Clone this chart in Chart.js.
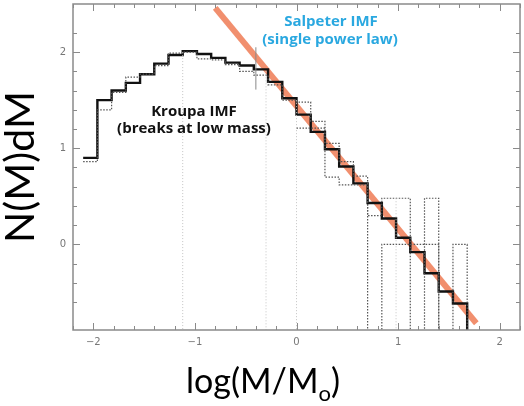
<!DOCTYPE html>
<html>
<head>
<meta charset="utf-8">
<script src="https://cdn.jsdelivr.net/npm/chart.js@4.4.1/dist/chart.umd.min.js"></script>
<style>
  html, body { margin: 0; padding: 0; background: #fff; }
  #wrap { width: 524px; height: 406px; position: relative; }
</style>
</head>
<body>
<div id="wrap"><canvas id="c" width="524" height="406"></canvas></div>
<script>
// ---- data ----
// bin edges in log(M/Mo)
const binEdges = [-2.10, -1.96, -1.82, -1.68, -1.54, -1.40, -1.26, -1.12, -0.98, -0.84,
                  -0.70, -0.56, -0.42, -0.28, -0.14, 0.00, 0.14, 0.28, 0.42, 0.56,
                  0.70, 0.84, 0.98, 1.12, 1.26, 1.40, 1.54, 1.68];
// log N value used for an empty bin (drops below the axis)
const LOG_ZERO = -1.5;
// solid (mean) histogram
const kroupaMean = [0.90, 1.50, 1.60, 1.68, 1.77, 1.88, 1.97, 2.01, 1.98, 1.94,
                    1.89, 1.86, 1.82, 1.69, 1.52, 1.35, 1.17, 0.99, 0.81, 0.635,
                    0.43, 0.27, 0.07, -0.08, -0.30, -0.49, -0.615];
// dotted single realisations
const runA = [0.86, 1.40, 1.58, 1.74, 1.77, 1.86, 1.99, 2.00, 1.93, 1.92,
              1.87, 1.80, 1.76, 1.66, 1.50, 1.48, 1.28, 0.70, 0.62, 0.62,
              0.30, 0.48, 0.48, LOG_ZERO, 0.48, LOG_ZERO, LOG_ZERO];
const runB = [null, null, null, null, null, null, null, null, null, null,
              null, null, null, null, null, 1.21, 1.21, 1.05, 0.86, 0.71,
              LOG_ZERO, 0.00, 0.00, 0.00, 0.00, LOG_ZERO, 0.00];
// faint dotted guide verticals
const guideX   = [-1.12, -0.30, 0.00, 0.98];
const guideTop = [2.00, 1.80, 1.50, 0.48];
// gray error bar
const errX = -0.40;
const errY = [1.61, 2.05];
// Salpeter single power law line
const salpeterX = [-0.80, 1.77];
const salpeterY = [2.46, -0.82];
// axis tick labels
const xTickLabels = [-2, -1, 0, 1, 2];
const yTickLabels = [0, 1, 2];

function stepPoints(vals) {
  const pts = [];
  for (let i = 0; i < vals.length; i++) pts.push({x: binEdges[i], y: vals[i]});
  const last = vals[vals.length - 1];
  pts.push({x: binEdges[vals.length], y: last});
  pts.push({x: binEdges[vals.length], y: LOG_ZERO});
  return pts;
}

const datasets = [];
guideX.forEach((gx, i) => {
  datasets.push({
    data: [{x: gx, y: guideTop[i]}, {x: gx, y: LOG_ZERO}],
    borderColor: '#c4c4c4', borderWidth: 1, borderDash: [1, 2], pointRadius: 0, fill: false
  });
});
datasets.push({
  data: [{x: errX, y: errY[0]}, {x: errX, y: errY[1]}],
  borderColor: '#888', borderWidth: 1, pointRadius: 0, fill: false
});
datasets.push({
  data: stepPoints(runB), stepped: 'before',
  borderColor: '#555', borderWidth: 1.2, borderDash: [1.5, 1.5], pointRadius: 0, fill: false, spanGaps: false
});
datasets.push({
  data: stepPoints(runA), stepped: 'before',
  borderColor: '#555', borderWidth: 1.2, borderDash: [1.5, 1.5], pointRadius: 0, fill: false
});
datasets.push({
  data: stepPoints(kroupaMean), stepped: 'before',
  borderColor: '#111', borderWidth: 2.4, pointRadius: 0, fill: false
});
datasets.push({
  data: [{x: salpeterX[0], y: salpeterY[0]}, {x: salpeterX[1], y: salpeterY[1]}],
  borderColor: 'rgba(238,118,78,0.82)', borderWidth: 6, pointRadius: 0, fill: false, borderCapStyle: 'butt'
});

function isMult(v, s) { return Math.abs(v / s - Math.round(v / s)) < 1e-6; }
function fmt(v) { return v < 0 ? '\u2212' + Math.abs(v) : String(v); }

const decor = {
  id: 'decor',
  afterDraw(chart) {
    const ctx = chart.ctx, a = chart.chartArea;
    const xs = chart.scales.x, ys = chart.scales.y;
    ctx.save();
    // frame
    ctx.strokeStyle = '#8a8a8a';
    ctx.lineWidth = 1.5;
    ctx.strokeRect(a.left, a.top, a.right - a.left, a.bottom - a.top);
    // inward ticks
    ctx.lineWidth = 1;
    ctx.beginPath();
    xs.ticks.forEach(t => {
      if (!isMult(t.value, 0.2)) return;
      const px = Math.round(xs.getPixelForValue(t.value)) + 0.5;
      const len = xTickLabels.some(v => Math.abs(v - t.value) < 1e-6) ? 7 : 4;
      ctx.moveTo(px, a.bottom); ctx.lineTo(px, a.bottom - len);
      ctx.moveTo(px, a.top); ctx.lineTo(px, a.top + len);
    });
    ys.ticks.forEach(t => {
      if (!isMult(t.value, 0.2)) return;
      const py = Math.round(ys.getPixelForValue(t.value)) + 0.5;
      const len = yTickLabels.some(v => Math.abs(v - t.value) < 1e-6) ? 7 : 4;
      ctx.moveTo(a.left, py); ctx.lineTo(a.left + len, py);
      ctx.moveTo(a.right, py); ctx.lineTo(a.right - len, py);
    });
    ctx.stroke();

    // annotations
    ctx.textAlign = 'center';
    ctx.textBaseline = 'middle';
    ctx.font = 'bold 15px "Open Sans"';
    ctx.fillStyle = '#2aa8e0';
    ctx.fillText('Salpeter IMF', 331, 22);
    ctx.fillText('(single power law)', 330, 40);
    ctx.fillStyle = '#111';
    ctx.fillText('Kroupa IMF', 194, 112);
    ctx.fillText('(breaks at low mass)', 194, 129);

    // axis titles
    ctx.fillStyle = '#000';
    ctx.font = '34px Lato';
    ctx.textBaseline = 'alphabetic';
    // x title with subscript
    const main1 = 'log(M/M', sub = 'o', main2 = ')';
    const w1 = ctx.measureText(main1).width;
    const w3 = ctx.measureText(main2).width;
    ctx.font = '22px Lato';
    const w2 = ctx.measureText(sub).width;
    const total = w1 + w2 + w3;
    let x0 = 263 - total / 2;
    ctx.textAlign = 'left';
    ctx.font = '34px Lato';
    ctx.fillText(main1, x0, 393);
    ctx.font = '22px Lato';
    ctx.fillText(sub, x0 + w1, 401);
    ctx.font = '34px Lato';
    ctx.fillText(main2, x0 + w1 + w2, 393);
    // y title rotated
    ctx.save();
    ctx.translate(34, 167);
    ctx.rotate(-Math.PI / 2);
    ctx.textAlign = 'center';
    ctx.font = '41px Lato';
    ctx.fillText('N(M)dM', 0, 0);
    ctx.restore();
    ctx.restore();
  }
};

new Chart(document.getElementById('c'), {
  type: 'line',
  data: { datasets },
  options: {
    responsive: false,
    animation: false,
    events: [],
    layout: { padding: { left: 0, top: 4, right: 4, bottom: 0 } },
    plugins: { legend: { display: false }, tooltip: { enabled: false } },
    scales: {
      x: {
        type: 'linear', min: -2.2, max: 2.2,
        grid: { display: false, drawTicks: false },
        border: { display: false },
        ticks: {
          stepSize: 0.2, autoSkip: false, maxRotation: 0, padding: 6,
          color: '#777', font: { family: 'DejaVu Sans', size: 10 },
          callback: v => xTickLabels.some(l => Math.abs(l - v) < 1e-6) ? fmt(Math.round(v)) : ''
        },
        afterFit: s => { s.height = 76; s.paddingLeft = 0; s.paddingRight = 0; }
      },
      y: {
        type: 'linear', min: -0.89, max: 2.5,
        grid: { display: false, drawTicks: false },
        border: { display: false },
        ticks: {
          stepSize: 0.2, autoSkip: false, padding: 7,
          color: '#777', font: { family: 'DejaVu Sans', size: 10 },
          callback: v => yTickLabels.some(l => Math.abs(l - v) < 1e-6) ? fmt(Math.round(v)) : ''
        },
        afterFit: s => { s.width = 73; s.paddingTop = 0; s.paddingBottom = 0; }
      }
    }
  },
  plugins: [decor]
});
</script>
</body>
</html>
